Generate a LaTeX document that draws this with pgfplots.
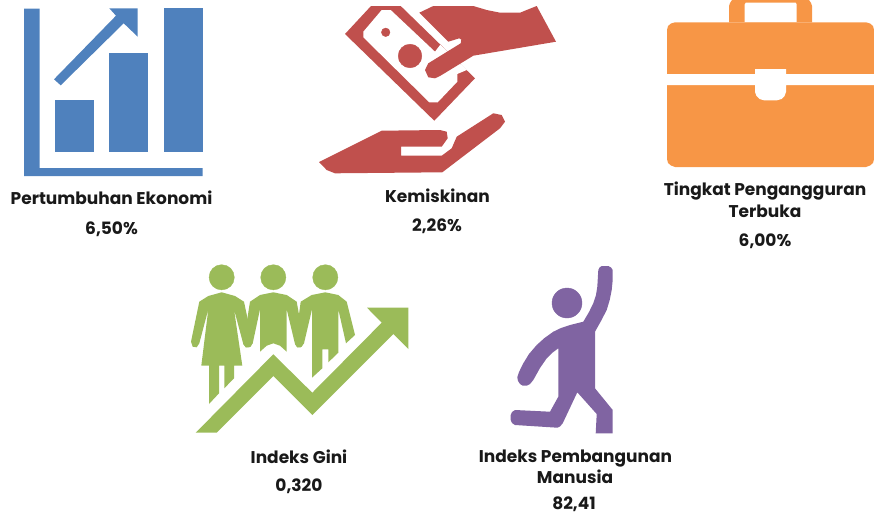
\documentclass[border=0pt]{standalone}
\usepackage{fontspec}
\setmainfont{Poppins}
\usepackage{pgfplots}
\pgfplotsset{compat=1.18}
\definecolor{cblue}{HTML}{4F81BD}
\definecolor{cred}{HTML}{C0504D}
\definecolor{corange}{HTML}{F79646}
\definecolor{cgreen}{HTML}{9BBB59}
\definecolor{cpurple}{HTML}{8064A2}
\pgfplotsset{
  icon/.style={draw=none, fill=#1, mark=none, forget plot},
  dot/.style args={#1/#2}{only marks, color=#1, mark=*, mark size=#2pt, mark options={draw=#1, fill=#1}, forget plot},
}
\newcommand{\lbl}[3]{\node[anchor=base, inner sep=0pt, font=\fontsize{17}{20}\selectfont\bfseries, text=black!90] at (axis cs:#1,#2) {#3};}
\begin{document}
\begin{tikzpicture}
\begin{axis}[
  name=board,
  scale only axis, width=874pt, height=514pt,
  xmin=0, xmax=874, ymin=0, ymax=514, y dir=reverse,
  hide axis, clip=true,
]
% growth chart
\addplot[icon=cblue] coordinates {(24,8.5)(39.5,8.5)(39.5,168)(202.7,168)(202.7,176)(24,176)} -- cycle;
\addplot[icon=cblue] coordinates {(55,100)(93.7,100)(93.7,152.3)(55,152.3)} -- cycle;
\addplot[icon=cblue] coordinates {(109.3,53.3)(148,53.3)(148,152.3)(109.3,152.3)} -- cycle;
\addplot[icon=cblue] coordinates {(163.7,8.3)(202.7,8.3)(202.7,152.3)(163.7,152.3)} -- cycle;
\addplot[icon=cblue] coordinates {(54,79.3)(116,15.7)(109.3,8.3)(137.7,8.3)(137.7,36.7)(123.7,23.3)(60.7,85.3)} -- cycle;
% money and hands
\addplot[icon=cred] coordinates {(345,34)(371,6)(400.7,6)(475,78.3)(434.3,120.7)} -- cycle;
\addplot[icon=white] coordinates {(381.7,10)(390.7,10)(435,51.7)(440.3,44.7)(466.7,70)(457.3,74)(457.3,81.7)(437.7,102.3)(429.3,102.3)(363.3,37.3)(363.3,31.7)} -- cycle;
\addplot[dot=cred/4.3] coordinates {(385.7,32.3)};
\addplot[dot=cred/11.8] coordinates {(410,56)};
\addplot[icon=cred] coordinates {(419.3,12.7)(433.3,6)(473.3,6)(486.7,10)(500,12.7)(520,12.7)(536.7,6)(556,41.7)(473.3,55.7)(440,76)(435,78.3)(428.3,77.3)(425,70)(428.3,63.3)(460.7,43.3)(461.3,39.7)(459.3,38.3)(448.3,41.7)} -- cycle;
\addplot[icon=cred] coordinates {(319,162)(381.7,130.7)(440,130)(446.7,131.7)(447.7,138.3)(441.7,146.7)(401,146.7)(401,155.7)(441.7,155.7)(451.7,148.3)(456.7,136.7)(493.3,113.3)(501.7,115)(505,121.7)(500,128.3)(442.3,172.3)(335,173.3)(326.7,170)} -- cycle;
% briefcase
\addplot[icon=corange] coordinates {(729,22.3)(729,6)(730,3)(732,0)(809,0)(811,3)(812,6)(812,22.3)} -- cycle;
\addplot[icon=white] coordinates {(744.7,4.5)(745.7,2.7)(795.7,2.7)(796.7,4.5)(796.7,22.3)(744.7,22.3)} -- cycle;
\addplot[icon=corange] coordinates {(667,30)(668,26)(671,23.5)(675,22.3)(866,22.3)(870,23.5)(873,26)(874,30)(874,159)(873,163)(870,165.5)(866,167)(675,167)(671,165.5)(668,163)(667,159)} -- cycle;
\addplot[icon=white] coordinates {(667,74)(755,74)(755,69)(786,69)(786,74)(874,74)(874,85)(786,85)(786,92)(784.5,96)(781.5,99)(777,100.3)(764,100.3)(759.5,99)(756.5,96)(755,92)(755,85)(667,85)} -- cycle;
% people and rising arrow
\addplot[dot=cgreen/12.6] coordinates {(221.7,277.3)};
\addplot[dot=cgreen/12.6] coordinates {(273.3,277.3)};
\addplot[dot=cgreen/12.6] coordinates {(325.3,277.3)};
\addplot[icon=white] coordinates {(200,255)(350,255)(350,266)(200,266)} -- cycle;
\addplot[icon=cgreen] coordinates {(191,341.7)(199.3,301.7)(208.3,296)(221.7,292.3)(235,296)(244,301.7)(252.7,342.7)(250.7,346.7)(246,347.3)(243.3,344)(234,309.3)(242.3,365.7)(234,365.7)(234,378.3)(224.3,388.3)(224.3,365.7)(219,365.7)(219,393.3)(209,404)(209,365.7)(201.3,365.7)(208.3,309.3)(199.3,343.3)(196.7,347.3)(192.7,346.7)} -- cycle;
\addplot[icon=cgreen] coordinates {(243.3,344)(250,301.7)(260,295)(273.3,292.3)(286.7,295)(296.7,301.7)(304,342.7)(301.7,346.7)(297.3,347.3)(295,344)(286.7,309.3)(286.7,351.7)(280,345.7)(273.3,343.3)(266.7,345.7)(260,351.7)(260,309.3)(252.7,343.3)(249.3,347.3)(245.7,347.3)} -- cycle;
\addplot[icon=cgreen] coordinates {(295,344)(300.7,301.7)(311.7,295)(325.3,292.3)(338.3,295)(346.7,301.7)(355,335)(346,343.3)(338.3,309.3)(338.3,352.7)(328.3,362.3)(328.3,349.3)(322.3,349.3)(322.3,368.3)(312,377.7)(312,309.3)(304,343.3)(300.7,347.3)(297.3,347.3)} -- cycle;
\addplot[icon=cgreen] coordinates {(195.7,432.7)(273.3,354.3)(312.3,392.7)(381.7,322.7)(367,307.7)(408.3,307.7)(408.3,349)(393.3,334)(312.3,415)(273.3,376)(216.7,432.7)} -- cycle;
% running figure
\addplot[dot=cpurple/15] coordinates {(567,303)};
\addplot[icon=cpurple] coordinates {(598.3,270)(599.5,267.5)(601.7,266)(608.3,266)(611,267.5)(612.7,270)(612.7,280)(611.7,290)(609.7,300)(606.7,310)(601,321)(595,331.7)(595,388.3)(612.7,410)(612.7,433.3)(595.7,433.3)(596.7,414)(577.3,392.3)(562.7,423.3)(560,426.5)(557.3,427.7)(515,425)(512,423)(510.7,420)(510.7,415)(512,412)(515,410)(550,411.7)(558.3,396.7)(558.3,348.3)(552,353)(546.7,358.3)(540,368)(533.3,380)(530,384)(526.7,385.7)(522.5,385.5)(520,384)(518,381)(517.3,377.3)(519,372)(523.3,363.3)(529,354)(536.7,345)(544.5,338)(553.3,331.7)(561,328)(570,325)(583.3,321.7)(589,312)(593.3,303.3)(596,295)(597.3,286.7)} -- cycle;
% labels
\lbl{111.5}{204.3}{Pertumbuhan Ekonomi}
\lbl{111.5}{234}{6,50\%}
\lbl{437.5}{202.7}{Kemiskinan}
\lbl{437}{231.7}{2,26\%}
\lbl{765}{195.7}{Tingkat Pengangguran}
\lbl{765}{217}{Terbuka}
\lbl{765}{246}{6,00\%}
\lbl{299}{463}{Indeks Gini}
\lbl{299}{491}{0,320}
\lbl{575.5}{462.7}{Indeks Pembangunan}
\lbl{575}{483.7}{Manusia}
\lbl{574}{509.5}{82,41}
\end{axis}
\useasboundingbox (board.south west) rectangle (board.north east);
\end{tikzpicture}
\end{document}
